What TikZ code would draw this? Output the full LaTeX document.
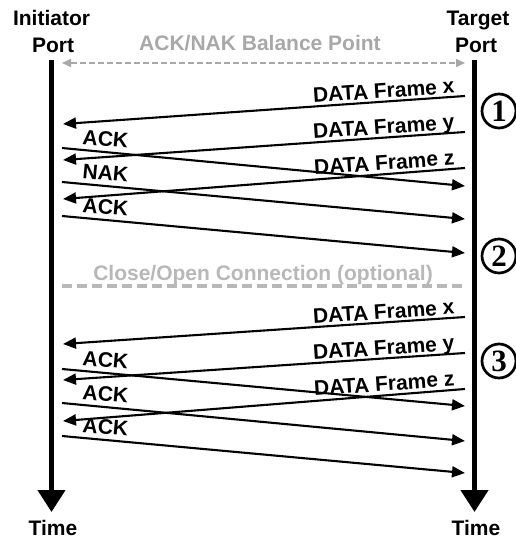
\documentclass[tikz,border=0pt]{standalone}
\usepackage{fontspec}
\setmainfont{Liberation Sans}
\newfontfamily\numfont{Liberation Serif}
\usetikzlibrary{arrows.meta,calc}
\definecolor{lgray}{HTML}{A8A8A8}
\definecolor{dgray}{HTML}{B8B8B8}
\begin{document}
\begin{tikzpicture}[x=1pt,y=-1pt,
  lbl/.style={font=\fontsize{21}{24}\selectfont\bfseries, inner sep=0pt},
  glbl/.style={lbl, text=lgray},
  dlbl/.style={lbl, anchor=base east, rotate=4},
  albl/.style={lbl, anchor=base west, rotate=-5.3},
  msg/.style={line width=2.1pt, -{Triangle[length=13pt,width=11pt]}},
  tline/.style={line width=4.5pt, -{Triangle[length=22pt,width=27pt]}},
  num/.style={circle, draw, line width=2.7pt, minimum size=34pt, inner sep=0pt,
    font=\numfont\fontsize{31}{31}\selectfont\bfseries}
]
\useasboundingbox (0,0) rectangle (515,538);

% headers
\node[lbl, anchor=base] (hi1) at (51.5,25) {Initiator};
\node[lbl, anchor=base] (hi2) at (53,52) {Port};
\node[lbl, anchor=base] (ht1) at (478,25) {Target};
\node[lbl, anchor=base] (ht2) at (476,52) {Port};
\node[lbl, anchor=base] (tm1) at (53,535) {Time};
\node[lbl, anchor=base] (tm2) at (476,535) {Time};

% timelines
\coordinate (iTop) at (51.5,60);
\coordinate (iBot) at (51.5,512);
\coordinate (tTop) at (474.5,60);
\coordinate (tBot) at (474.5,512);
\draw[tline] (iTop) -- (iBot);
\draw[tline] (tTop) -- (tBot);

% balance point
\coordinate (bL) at (62,63);
\coordinate (bR) at (465,63);
\draw[lgray, line width=1.6pt, dash pattern=on 6pt off 3pt,
  {Triangle[length=9pt,width=8pt]}-{Triangle[length=9pt,width=8pt]}] (bL) -- (bR);
\node[glbl, anchor=base] (bal) at (260,50) {ACK/NAK Balance Point};

% close/open connection
\coordinate (cL) at (62,286);
\coordinate (cR) at (465,286);
\draw[dgray, line width=3.5pt, dash pattern=on 10pt off 5pt] (cL) -- (cR);
\node[glbl, text=dgray, anchor=base] (clo) at (263,280) {Close/Open Connection (optional)};

% section 1
\coordinate (d1xs) at (465,96);  \coordinate (d1xe) at (63,124);
\coordinate (d1ys) at (465,132); \coordinate (d1ye) at (63,160);
\coordinate (d1zs) at (465,168); \coordinate (d1ze) at (63,199);
\coordinate (a1as) at (62,148);  \coordinate (a1ae) at (465,186);
\coordinate (a1bs) at (62,182);  \coordinate (a1be) at (465,219);
\coordinate (a1cs) at (62,216);  \coordinate (a1ce) at (465,253);
\draw[msg] (d1xs) -- (d1xe);
\draw[msg] (d1ys) -- (d1ye);
\draw[msg] (d1zs) -- (d1ze);
\draw[msg] (a1as) -- (a1ae);
\draw[msg] (a1bs) -- (a1be);
\draw[msg] (a1cs) -- (a1ce);
\node[dlbl] (l1x) at ($(d1xs)+(-10,-3)$) {DATA Frame x};
\node[dlbl] (l1y) at ($(d1ys)+(-10,-3)$) {DATA Frame y};
\node[dlbl] (l1z) at ($(d1zs)+(-10,-3)$) {DATA Frame z};
\node[albl] (l1a) at ($(a1as)+(20,-4)$) {ACK};
\node[albl] (l1b) at ($(a1bs)+(20,-4)$) {NAK};
\node[albl] (l1c) at ($(a1cs)+(20,-4)$) {ACK};

% section 3
\coordinate (d3xs) at (465,317); \coordinate (d3xe) at (63,344);
\coordinate (d3ys) at (465,353); \coordinate (d3ye) at (63,380);
\coordinate (d3zs) at (465,389); \coordinate (d3ze) at (63,421);
\coordinate (a3as) at (62,369);  \coordinate (a3ae) at (465,406);
\coordinate (a3bs) at (62,403);  \coordinate (a3be) at (465,441);
\coordinate (a3cs) at (62,436);  \coordinate (a3ce) at (465,473);
\draw[msg] (d3xs) -- (d3xe);
\draw[msg] (d3ys) -- (d3ye);
\draw[msg] (d3zs) -- (d3ze);
\draw[msg] (a3as) -- (a3ae);
\draw[msg] (a3bs) -- (a3be);
\draw[msg] (a3cs) -- (a3ce);
\node[dlbl] (l3x) at ($(d3xs)+(-10,-3)$) {DATA Frame x};
\node[dlbl] (l3y) at ($(d3ys)+(-10,-3)$) {DATA Frame y};
\node[dlbl] (l3z) at ($(d3zs)+(-10,-3)$) {DATA Frame z};
\node[albl] (l3a) at ($(a3as)+(20,-4)$) {ACK};
\node[albl] (l3b) at ($(a3bs)+(20,-4)$) {ACK};
\node[albl] (l3c) at ($(a3cs)+(20,-4)$) {ACK};

% circled numbers
\node[num] (n1) at (499,111) {1};
\node[num] (n2) at (499,256) {2};
\node[num] (n3) at (499,361) {3};
\end{tikzpicture}
\end{document}
